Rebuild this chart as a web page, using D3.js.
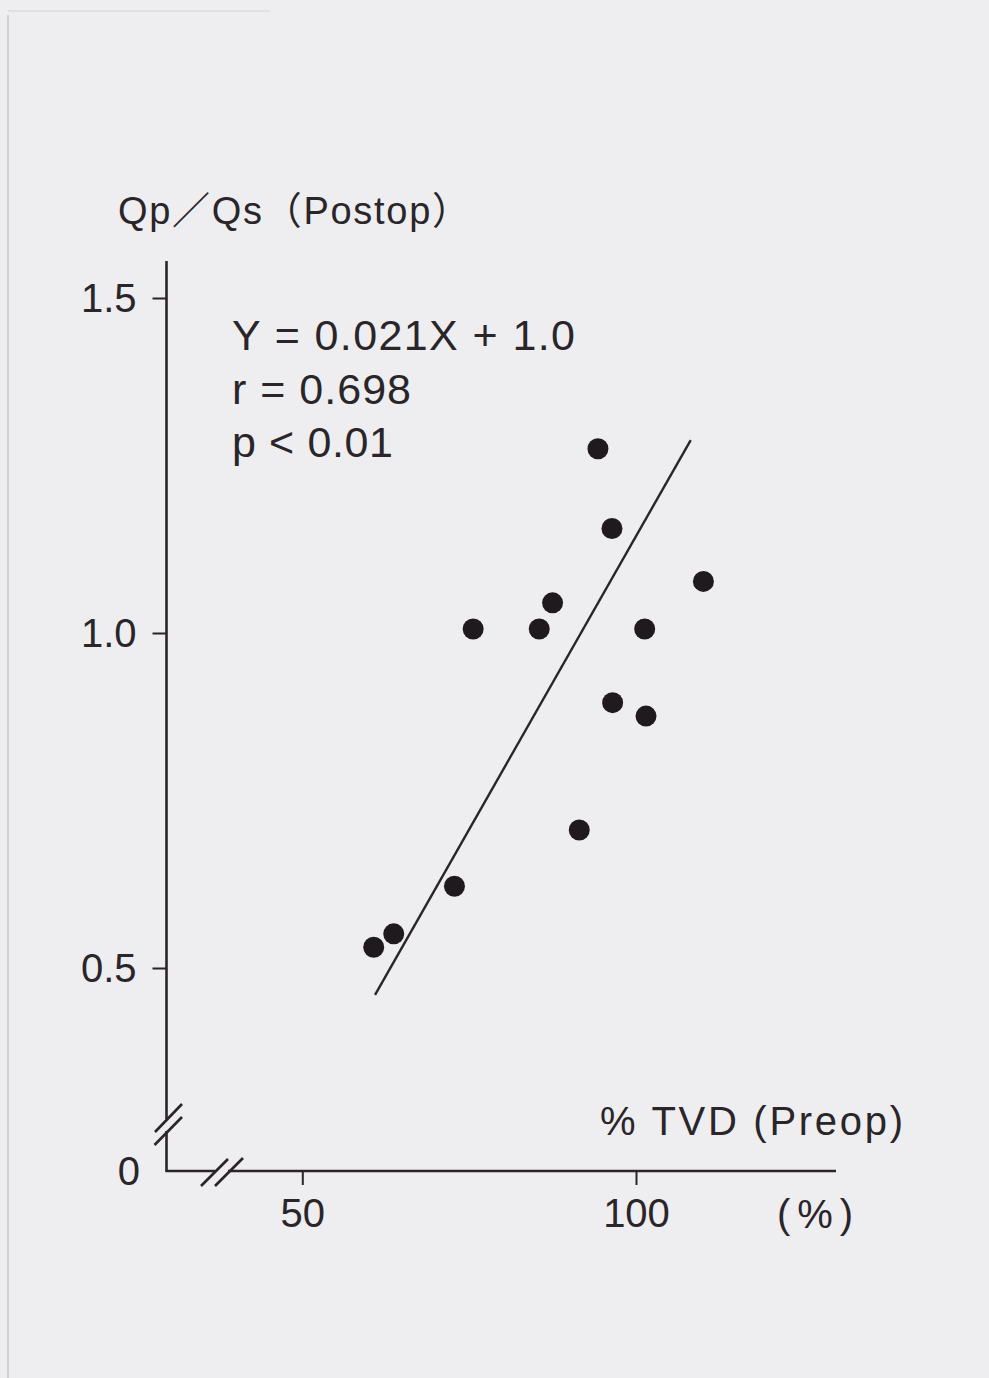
<!DOCTYPE html>
<html>
<head>
<meta charset="utf-8">
<script src="https://cdn.jsdelivr.net/npm/d3@7"></script>
<style>
  html, body { margin: 0; padding: 0; background: #eeeef0; }
  svg { display: block; }
</style>
</head>
<body>
<script>
// data
const tvd = [60.7, 63.7, 72.8, 75.6, 85.5, 87.5, 91.5, 94.3, 96.4, 96.5, 101.3, 101.5, 110.1];
const qpqs = [0.531, 0.551, 0.622, 1.006, 1.006, 1.045, 0.706, 1.275, 1.156, 0.896, 1.006, 0.876, 1.077];
const fitX = [60.9, 108.2];
const fitY = [0.46, 1.288];
const xTicks = [50, 100];
const yTicks = [0.5, 1.0, 1.5];
const statLines = ["Y = 0.021X + 1.0", "r = 0.698", "p < 0.01"];

const width = 989, height = 1378;
const ink = "#2a2528";
const font = "'Liberation Sans', 'Noto Sans CJK JP', sans-serif";

const svg = d3.select("body").append("svg")
  .attr("width", width)
  .attr("height", height)
  .style("font-family", font);

svg.append("rect").attr("width", width).attr("height", height).attr("fill", "#eeeef0");

// faint scan edges
svg.append("line")
  .attr("x1", 8).attr("x2", 8).attr("y1", 15).attr("y2", 1378)
  .attr("stroke", "#bdbbbf").attr("stroke-width", 1.2);
svg.append("line")
  .attr("x1", 8).attr("x2", 270).attr("y1", 11).attr("y2", 11)
  .attr("stroke", "#d2d0d4").attr("stroke-width", 1);

const x = d3.scaleLinear().domain([50, 100]).range([302.3, 636]);
const y = d3.scaleLinear().domain([0.5, 1.5]).range([968, 298]);

const axisX0 = 166.5, axisY0 = 1171;

// axis lines with break marks
const axisLines = [
  [axisX0, 261, axisX0, 1119],
  [axisX0, 1131, axisX0, axisY0],
  [axisX0 - 1.2, axisY0, 215, axisY0],
  [228, axisY0, 836, axisY0],
  // y break
  [155, 1132, 182, 1104],
  [154.5, 1145, 182, 1117],
  // x break
  [201, 1186, 228, 1159],
  [215, 1186, 243, 1158]
];
svg.selectAll("line.ax")
  .data(axisLines)
  .enter()
  .append("line")
  .attr("class", "ax")
  .attr("x1", d => d[0]).attr("y1", d => d[1])
  .attr("x2", d => d[2]).attr("y2", d => d[3])
  .attr("stroke", ink)
  .attr("stroke-width", 2.6);

// y ticks
const gy = svg.append("g")
  .attr("transform", `translate(${axisX0},0)`)
  .call(d3.axisLeft(y).tickValues(yTicks).tickSize(14).tickPadding(16).tickFormat(d3.format(".1f")));
gy.select(".domain").remove();
gy.selectAll("line").attr("stroke", ink).attr("stroke-width", 2);
gy.selectAll("text")
  .attr("fill", ink)
  .style("font-family", font)
  .style("font-size", "40px")
  .attr("dy", "0.34em");

// x ticks
const gx = svg.append("g")
  .attr("transform", `translate(0,${axisY0})`)
  .call(d3.axisBottom(x).tickValues(xTicks).tickSize(14).tickPadding(14));
gx.select(".domain").remove();
gx.selectAll("line").attr("stroke", ink).attr("stroke-width", 2);
gx.selectAll("text")
  .attr("fill", ink)
  .style("font-family", font)
  .style("font-size", "40px");

// zero label at the broken origin
svg.append("text")
  .attr("x", 140).attr("y", axisY0)
  .attr("dy", "0.36em")
  .attr("text-anchor", "end")
  .attr("fill", ink)
  .style("font-size", "40px")
  .text("0");

// axis titles
svg.append("text")
  .attr("x", 118).attr("y", 224)
  .attr("fill", ink)
  .style("font-size", "38px")
  .attr("textLength", 352)
  .attr("lengthAdjust", "spacing")
  .text("Qp／Qs（Postop）");

svg.append("text")
  .attr("x", 600).attr("y", 1135)
  .attr("fill", ink)
  .style("font-size", "40px")
  .attr("textLength", 303)
  .attr("lengthAdjust", "spacing")
  .text("% TVD (Preop)");

svg.append("text")
  .attr("x", 777).attr("y", 1228)
  .attr("fill", ink)
  .style("font-size", "40px")
  .attr("textLength", 76)
  .attr("lengthAdjust", "spacing")
  .text("(%)");

// statistics
const statLen = [343, 179, 161];
svg.selectAll("text.stat")
  .data(statLines)
  .enter()
  .append("text")
  .attr("class", "stat")
  .attr("x", 232)
  .attr("y", (d, i) => 350 + i * 53.5)
  .attr("fill", ink)
  .style("font-size", "43px")
  .attr("textLength", (d, i) => statLen[i])
  .attr("lengthAdjust", "spacing")
  .text(d => d);

// regression line
svg.append("line")
  .attr("x1", x(fitX[0])).attr("y1", y(fitY[0]))
  .attr("x2", x(fitX[1])).attr("y2", y(fitY[1]))
  .attr("stroke", ink)
  .attr("stroke-width", 2.4);

// points
svg.selectAll("circle")
  .data(tvd)
  .enter()
  .append("circle")
  .attr("cx", d => x(d))
  .attr("cy", (d, i) => y(qpqs[i]))
  .attr("r", 10.5)
  .attr("fill", "#1f1a1e");
</script>
</body>
</html>
